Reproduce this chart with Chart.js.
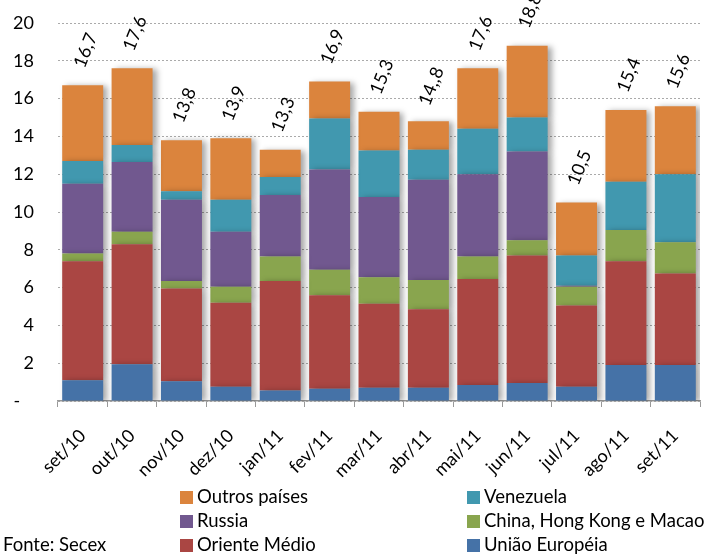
<!DOCTYPE html>
<html>
<head>
<meta charset="utf-8">
<script src="https://cdn.jsdelivr.net/npm/chart.js@4/dist/chart.umd.min.js"></script>
<style>
  body { margin: 0; background: #fff; }
  #container { position: relative; width: 711px; height: 555px; overflow: hidden; font-family: Lato, sans-serif; }
  .leg { position: absolute; font-size: 18.5px; line-height: 20px; white-space: nowrap; color: #000; }
  .leg span { display: inline-block; width: 13px; height: 13px; margin-right: 4px; vertical-align: -1px; }
</style>
</head>
<body>
<div id="container">
  <canvas id="myChart"></canvas>
  <div class="leg" style="left:180px;top:486px"><span style="background:#DB843D"></span>Outros países</div>
  <div class="leg" style="left:467px;top:486px"><span style="background:#4198AF"></span>Venezuela</div>
  <div class="leg" style="left:180px;top:510px"><span style="background:#71588F"></span>Russia</div>
  <div class="leg" style="left:467px;top:510px"><span style="background:#89A54E"></span>China, Hong Kong e Macao</div>
  <div class="leg" style="left:180px;top:534px"><span style="background:#AA4643"></span>Oriente Médio</div>
  <div class="leg" style="left:467px;top:534px"><span style="background:#4572A7"></span>União Européia</div>
  <div class="leg" style="left:3px;top:534px">Fonte: Secex</div>
</div>
<script>
const months = ['set/10','out/10','nov/10','dez/10','jan/11','fev/11','mar/11','abr/11','mai/11','jun/11','jul/11','ago/11','set/11']

const uniaoEuropeia = [1.1, 1.95, 1.05, 0.75, 0.55, 0.65, 0.7, 0.7, 0.85, 0.95, 0.75, 1.9, 1.9]
const orienteMedio  = [6.3, 6.35, 4.9, 4.45, 5.8, 4.95, 4.45, 4.15, 5.6, 6.75, 4.3, 5.5, 4.85]
const china         = [0.4, 0.65, 0.4, 0.85, 1.3, 1.35, 1.4, 1.55, 1.2, 0.8, 1.0, 1.65, 1.65]
const russia        = [3.7, 3.7, 4.3, 2.9, 3.25, 5.3, 4.25, 5.3, 4.35, 4.7, 0.05, 0, 0]
const venezuela     = [1.2, 0.9, 0.45, 1.7, 0.95, 2.7, 2.45, 1.6, 2.4, 1.8, 1.6, 2.55, 3.6]
const outros        = [4.0, 4.05, 2.7, 3.25, 1.45, 1.95, 2.05, 1.5, 3.2, 3.8, 2.8, 3.8, 3.6]

const totals      = [16.7, 17.6, 13.8, 13.9, 13.3, 16.9, 15.3, 14.8, 17.6, 18.8, 10.5, 15.4, 15.6]
const totalLabels = ['16,7','17,6','13,8','13,9','13,3','16,9','15,3','14,,8','17,6','18,8','10,5','15,4','15,6']

const yTicks = [0, 2, 4, 6, 8, 10, 12, 14, 16, 18, 20]

const FONT = 'Lato, sans-serif'

// soft shadow to the right of the bars
const shadowPlugin = {
    id: 'barShadow',
    beforeDatasetsDraw(chart) {
        const ctx = chart.ctx
        ctx.save()
        ctx.shadowColor = 'rgba(0,0,0,0.35)'
        ctx.shadowBlur = 6
        ctx.shadowOffsetX = 4
        ctx.shadowOffsetY = 1
    },
    afterDatasetsDraw(chart) {
        chart.ctx.restore()
    }
}

// rotated total above each bar
const totalsPlugin = {
    id: 'totals',
    afterDraw(chart) {
        const ctx = chart.ctx
        const x = chart.scales.x, y = chart.scales.y
        ctx.save()
        ctx.font = '18px ' + FONT
        ctx.fillStyle = '#000'
        ctx.textAlign = 'center'
        ctx.textBaseline = 'middle'
        totals.forEach((t, i) => {
            ctx.save()
            ctx.translate(x.getPixelForValue(i) + 3, y.getPixelForValue(t) - 35)
            ctx.rotate(-68 * Math.PI / 180)
            ctx.fillText(totalLabels[i], 0, 0)
            ctx.restore()
        })
        ctx.restore()
    }
}

const series = [
    { label: 'União Européia', data: uniaoEuropeia, color: '#4572A7' },
    { label: 'Oriente Médio', data: orienteMedio, color: '#AA4643' },
    { label: 'China, Hong Kong e Macao', data: china, color: '#89A54E' },
    { label: 'Russia', data: russia, color: '#71588F' },
    { label: 'Venezuela', data: venezuela, color: '#4198AF' },
    { label: 'Outros países', data: outros, color: '#DB843D' }
]

const myChart = document.getElementById('myChart').getContext('2d')
new Chart(myChart, {
    type: 'bar',
    data: {
        labels: months,
        datasets: series.map(s => {
            return {
                label: s.label,
                data: s.data,
                backgroundColor: s.color,
                borderWidth: 0,
                barPercentage: 0.83,
                categoryPercentage: 1
            }
        })
    },
    options: {
        responsive: true,
        maintainAspectRatio: false,
        animation: false,
        layout: { padding: { top: 23, right: 11, left: 0, bottom: 0 } },
        plugins: {
            legend: { display: false },
            tooltip: { enabled: false }
        },
        scales: {
            x: {
                stacked: true,
                afterFit: s => { s.height = 154 },
                grid: { drawOnChartArea: false, drawTicks: true, tickLength: 6, color: '#999', offset: true },
                border: { color: '#999', width: 1.5 },
                ticks: {
                    color: '#000',
                    font: { family: FONT, size: 18 },
                    minRotation: 45,
                    maxRotation: 45,
                    padding: 18
                }
            },
            y: {
                stacked: true,
                min: 0,
                max: 20,
                afterFit: s => { s.width = 58; s.paddingTop = 0; s.paddingBottom = 0 },
                afterBuildTicks: s => { s.ticks = yTicks.map(v => ({ value: v })) },
                grid: { color: '#aaa', drawTicks: false, lineWidth: 1 },
                border: { display: false, dash: [2, 2] },
                ticks: {
                    color: '#000',
                    font: { family: FONT, size: 18 },
                    padding: 24,
                    callback: v => v === 0 ? '-   ' : v
                }
            }
        }
    },
    plugins: [shadowPlugin, totalsPlugin]
})
</script>
</body>
</html>
